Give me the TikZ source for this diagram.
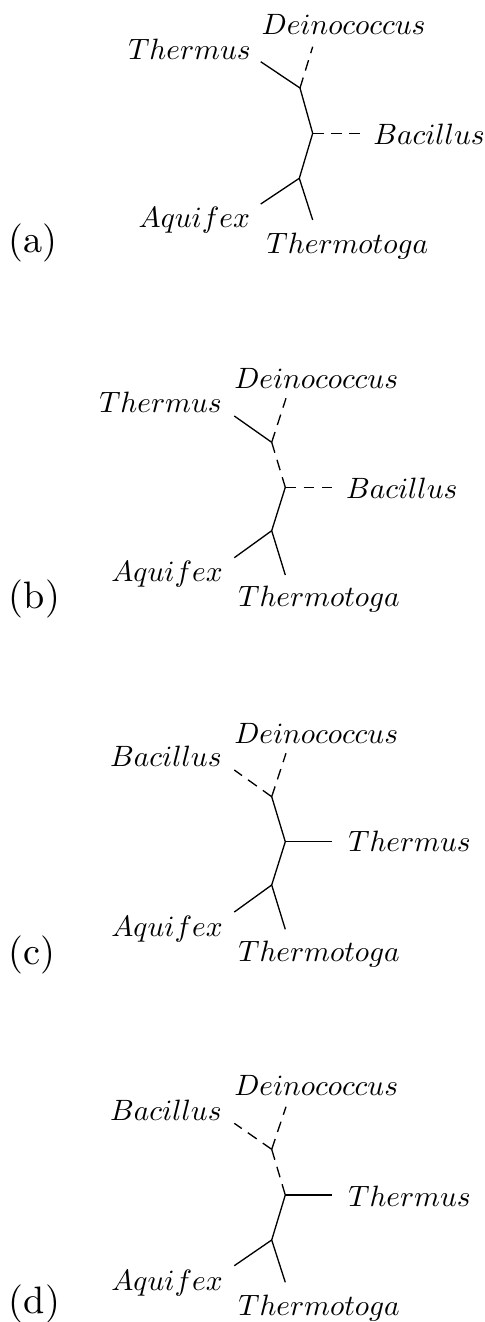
\documentclass[tikz,border=0pt]{standalone}
\begin{document}
\begin{tikzpicture}[x=0.34pt,y=-0.34pt,
  br/.style={line width=0.45pt},
  dbr/.style={line width=0.45pt,dash pattern=on 3.7pt off 2.5pt},
  lab/.style={inner sep=0pt,outer sep=0pt},
  plab/.style={inner sep=0pt,outer sep=0pt,anchor=base west,scale=1.3}]
\useasboundingbox (0,0) rectangle (485,1322);
% ---------- (a)
\coordinate (a1) at (300,88);
\coordinate (a2) at (312.7,133.3);
\coordinate (a3) at (299.3,178.3);
\coordinate (aTh) at (260.7,61.7);
\coordinate (aDe) at (312.7,46.7);
\coordinate (aBa) at (360,133.3);
\coordinate (aAq) at (260.7,204);
\coordinate (aTt) at (312.7,220);
\draw[br] (aTh) -- (a1) -- (a2) -- (a3) -- (aAq);
\draw[br] (a3) -- (aTt);
\draw[dbr] (a1) -- (aDe);
\draw[dbr] (a2) -- (aBa);
\node[lab,anchor=base east] (aThL) at (250.7,59.3) {$Thermus$};
\node[lab,anchor=base west] (aDeL) at (261.7,34.3) {$Deinococcus$};
\node[lab,anchor=base west] (aBaL) at (373.3,144) {$Bacillus$};
\node[lab,anchor=base east] (aAqL) at (250,227.3) {$Aquifex$};
\node[lab,anchor=base west] (aTtL) at (266.7,253.3) {$Thermotoga$};
\node[plab] (pa) at (8.9,252) {(a)};
% ---------- (b)
\coordinate (b1) at (271.7,442.3);
\coordinate (b2) at (285.3,487.3);
\coordinate (b3) at (271.7,530.7);
\coordinate (bTh) at (234.3,416);
\coordinate (bDe) at (286,398.3);
\coordinate (bBa) at (332.3,487.3);
\coordinate (bAq) at (234.3,557.7);
\coordinate (bTt) at (285.3,575);
\draw[br] (bTh) -- (b1);
\draw[br] (b2) -- (b3) -- (bAq);
\draw[br] (b3) -- (bTt);
\draw[dbr] (b1) -- (bDe);
\draw[dbr] (b1) -- (b2);
\draw[dbr] (b2) -- (bBa);
\node[lab,anchor=base east] (bThL) at (221.7,412.3) {$Thermus$};
\node[lab,anchor=base west] (bDeL) at (234.3,388.3) {$Deinococcus$};
\node[lab,anchor=base west] (bBaL) at (346,498.3) {$Bacillus$};
\node[lab,anchor=base east] (bAqL) at (222.7,581.7) {$Aquifex$};
\node[lab,anchor=base west] (bTtL) at (238.3,606.7) {$Thermotoga$};
\node[plab] (pb) at (8.9,608) {(b)};
% ---------- (c)
\coordinate (c1) at (271.7,796.7);
\coordinate (c2) at (285.3,841.7);
\coordinate (c3) at (271.7,885);
\coordinate (cBa) at (234.3,770);
\coordinate (cDe) at (286,753.3);
\coordinate (cTh) at (332.3,841.7);
\coordinate (cAq) at (234.3,912);
\coordinate (cTt) at (285.3,929.3);
\draw[br] (c1) -- (c2) -- (c3) -- (cAq);
\draw[br] (c3) -- (cTt);
\draw[br] (c2) -- (cTh);
\draw[dbr] (c1) -- (cBa);
\draw[dbr] (c1) -- (cDe);
\node[lab,anchor=base east] (cBaL) at (221.7,766) {$Bacillus$};
\node[lab,anchor=base west] (cDeL) at (234.3,743.3) {$Deinococcus$};
\node[lab,anchor=base west] (cThL) at (348.3,851.7) {$Thermus$};
\node[lab,anchor=base east] (cAqL) at (222.7,936) {$Aquifex$};
\node[lab,anchor=base west] (cTtL) at (238.3,961.7) {$Thermotoga$};
\node[plab] (pc) at (8.9,964) {(c)};
% ---------- (d)
\coordinate (d1) at (271.7,1149.3);
\coordinate (d2) at (285.3,1195);
\coordinate (d3) at (271.7,1240);
\coordinate (dBa) at (234.3,1123.3);
\coordinate (dDe) at (286,1106.7);
\coordinate (dTh) at (332.3,1195);
\coordinate (dAq) at (234.3,1265.7);
\coordinate (dTt) at (285.3,1282.3);
\draw[br] (d2) -- (d3) -- (dAq);
\draw[br] (d3) -- (dTt);
\draw[br] (d2) -- (dTh);
\draw[dbr] (d1) -- (dBa);
\draw[dbr] (d1) -- (dDe);
\draw[dbr] (d1) -- (d2);
\node[lab,anchor=base east] (dBaL) at (221.7,1120) {$Bacillus$};
\node[lab,anchor=base west] (dDeL) at (234.3,1095) {$Deinococcus$};
\node[lab,anchor=base west] (dThL) at (348.3,1206.7) {$Thermus$};
\node[lab,anchor=base east] (dAqL) at (222.7,1290) {$Aquifex$};
\node[lab,anchor=base west] (dTtL) at (238.3,1315) {$Thermotoga$};
\node[plab] (pd) at (8.9,1313) {(d)};
\end{tikzpicture}
\end{document}
